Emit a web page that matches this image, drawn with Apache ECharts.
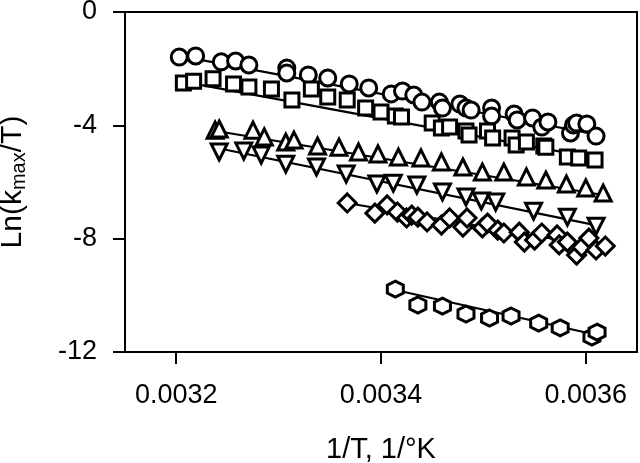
<!DOCTYPE html>
<html>
<head>
<meta charset="utf-8">
<script src="https://cdn.jsdelivr.net/npm/echarts@6/dist/echarts.min.js"></script>
<style>
  html, body { margin: 0; padding: 0; background: #fff; }
  #chart { width: 640px; height: 463px; }
</style>
</head>
<body>
<div id="chart"></div>
<script>
// x = 1/T, y = Ln(kmax/T)
var circleX = [0.003203, 0.003219, 0.003244, 0.003258, 0.003271, 0.003308, 0.003308, 0.003329, 0.003348, 0.003369, 0.003388, 0.003410, 0.003421, 0.003432, 0.003440, 0.003457, 0.003460, 0.003477, 0.003483, 0.003488, 0.003508, 0.003508, 0.003530, 0.003533, 0.003548, 0.003557, 0.003563, 0.003585, 0.003588, 0.003591, 0.003601, 0.003610];
var circleY = [-1.59, -1.55, -1.76, -1.73, -1.87, -1.98, -2.15, -2.22, -2.33, -2.54, -2.68, -2.89, -2.79, -2.93, -3.18, -3.18, -3.39, -3.25, -3.39, -3.46, -3.39, -3.67, -3.60, -3.81, -3.74, -4.06, -3.88, -4.27, -3.99, -3.92, -3.95, -4.38];

var squareX = [0.003207, 0.003217, 0.003236, 0.003256, 0.003271, 0.003293, 0.003313, 0.003332, 0.003348, 0.003367, 0.003385, 0.003400, 0.003414, 0.003420, 0.003450, 0.003459, 0.003467, 0.003483, 0.003486, 0.003504, 0.003509, 0.003528, 0.003532, 0.003542, 0.003559, 0.003561, 0.003582, 0.003593, 0.003609];
var squareY = [-2.51, -2.44, -2.36, -2.54, -2.65, -2.72, -3.11, -2.72, -3.00, -3.11, -3.39, -3.53, -3.67, -3.71, -3.92, -4.09, -4.06, -4.20, -4.34, -4.20, -4.45, -4.45, -4.69, -4.59, -4.73, -4.77, -5.12, -5.15, -5.22];

var upX = [0.003238, 0.003242, 0.003275, 0.003286, 0.003307, 0.003315, 0.003338, 0.003359, 0.003378, 0.003397, 0.003417, 0.003439, 0.003459, 0.003480, 0.003499, 0.003520, 0.003542, 0.003561, 0.003581, 0.003600, 0.003617];
var upY = [-4.17, -4.13, -4.17, -4.41, -4.59, -4.52, -4.73, -4.77, -4.94, -5.01, -5.12, -5.15, -5.29, -5.47, -5.65, -5.65, -5.82, -5.93, -6.07, -6.21, -6.39];

var downX = [0.003242, 0.003266, 0.003283, 0.003307, 0.003337, 0.003366, 0.003396, 0.003412, 0.003435, 0.003460, 0.003483, 0.003498, 0.003512, 0.003549, 0.003582, 0.003610];
var downY = [-4.94, -4.91, -5.05, -5.37, -5.47, -5.72, -6.07, -6.04, -6.11, -6.35, -6.53, -6.67, -6.71, -7.03, -7.24, -7.56];

var diamondX = [0.003367, 0.003394, 0.003406, 0.003416, 0.003425, 0.003430, 0.003436, 0.003445, 0.003459, 0.003467, 0.003480, 0.003484, 0.003499, 0.003504, 0.003514, 0.003520, 0.003535, 0.003540, 0.003550, 0.003557, 0.003572, 0.003574, 0.003582, 0.003591, 0.003596, 0.003603, 0.003610, 0.003619];
var diamondY = [-6.74, -7.10, -6.81, -7.06, -7.27, -7.17, -7.24, -7.41, -7.52, -7.27, -7.59, -7.27, -7.62, -7.45, -7.70, -7.80, -7.77, -8.12, -8.05, -7.80, -7.87, -8.22, -8.12, -8.58, -8.30, -7.98, -8.40, -8.26];

var hexX = [0.003414, 0.003436, 0.003460, 0.003483, 0.003506, 0.003527, 0.003554, 0.003575, 0.003606, 0.003611];
var hexY = [-9.78, -10.34, -10.38, -10.66, -10.80, -10.73, -10.98, -11.15, -11.47, -11.30];

// fitted lines, end points [x0, x1] and [y0, y1]
var fitX = {
  circle: [0.003203, 0.003613], square: [0.003205, 0.003616], up: [0.003239, 0.003617],
  down: [0.003240, 0.003613], diamond: [0.003367, 0.003619], hex: [0.003414, 0.003611]
};
var fitY = {
  circle: [-1.55, -4.34], square: [-2.45, -5.2], up: [-4.2, -6.46],
  down: [-4.8, -7.55], diamond: [-6.74, -8.33], hex: [-9.81, -11.4]
};

var xTicks = [0.0032, 0.0034, 0.0036];
var hexPath = 'path://M0,-1 L0.866,-0.5 L0.866,0.5 L0,1 L-0.866,0.5 L-0.866,-0.5 Z';

function zip(xs, ys) {
  return xs.map(function (x, i) { return [x, ys[i]]; });
}

var groups = [
  { key: 'circle', x: circleX, y: circleY, symbol: 'circle', size: 16, rotate: 0 },
  { key: 'square', x: squareX, y: squareY, symbol: 'rect', size: 14, rotate: 0 },
  { key: 'up', x: upX, y: upY, symbol: 'triangle', size: 16, rotate: 0 },
  { key: 'down', x: downX, y: downY, symbol: 'triangle', size: 16, rotate: 180 },
  { key: 'diamond', x: diamondX, y: diamondY, symbol: 'diamond', size: 18, rotate: 0 },
  { key: 'hex', x: hexX, y: hexY, symbol: hexPath, size: 16, rotate: 0 }
];

var series = [];
groups.forEach(function (g) {
  series.push({
    type: 'line',
    data: zip(fitX[g.key], fitY[g.key]),
    symbol: 'none',
    lineStyle: { color: '#000', width: 2.2 },
    z: 2,
    silent: true
  });
});
groups.forEach(function (g) {
  series.push({
    type: 'scatter',
    data: zip(g.x, g.y),
    symbol: g.symbol,
    symbolSize: g.size,
    symbolRotate: g.rotate,
    itemStyle: { color: '#fff', borderColor: '#000', borderWidth: 3, opacity: 1 },
    z: 3
  });
});

var chart = echarts.init(document.getElementById('chart'));
chart.setOption({
  animation: false,
  textStyle: { fontFamily: 'Liberation Sans, Arial, sans-serif' },
  grid: {
    left: 125, right: 3, top: 12, bottom: 111,
    outerBoundsMode: 'none',
    containLabel: false,
    show: true, borderColor: '#000', borderWidth: 2, backgroundColor: 'transparent'
  },
  xAxis: {
    type: 'value',
    min: 0.00315,
    max: 0.00365,
    splitLine: { show: false },
    axisLine: { onZero: false, lineStyle: { color: '#000', width: 2 } },
    axisTick: { customValues: xTicks, length: 12, lineStyle: { color: '#000', width: 2 } },
    axisLabel: {
      customValues: xTicks, color: '#000', fontSize: 27, margin: 30,
      formatter: function (v) { return v.toFixed(4); }
    },
    name: '1/T, 1/°K',
    nameLocation: 'middle',
    nameGap: 83,
    nameTextStyle: { color: '#000', fontSize: 29 }
  },
  yAxis: {
    type: 'value',
    min: -12,
    max: 0,
    interval: 4,
    splitLine: { show: false },
    axisLine: { lineStyle: { color: '#000', width: 2 } },
    axisTick: { length: 12, lineStyle: { color: '#000', width: 2 } },
    axisLabel: { color: '#000', fontSize: 27, margin: 28 },
    name: '{a|Ln(k}{b|max}{a|/T)}',
    nameLocation: 'middle',
    nameGap: 96,
    nameRotate: 90,
    nameTextStyle: {
      color: '#000',
      rich: {
        a: { fontSize: 30, color: '#000' },
        b: { fontSize: 20, color: '#000', padding: [13, 0, 0, 0] }
      }
    }
  },
  series: series
});
</script>
</body>
</html>
